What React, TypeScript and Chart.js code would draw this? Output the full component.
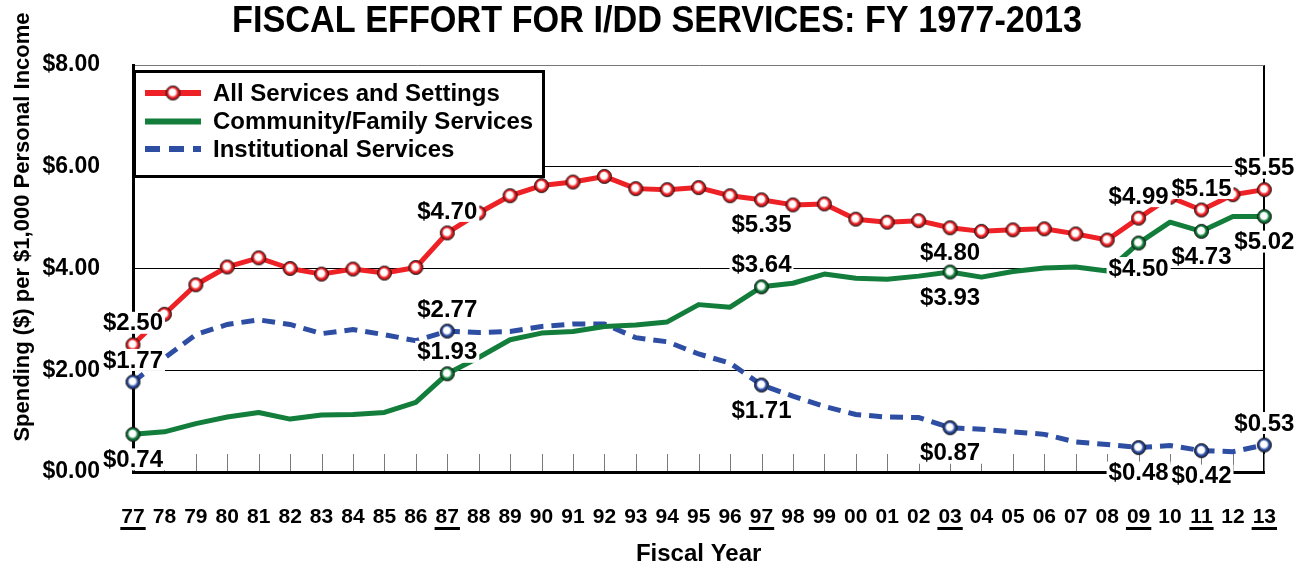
import React, { useEffect, useRef } from 'react';
import { Chart, registerables } from 'chart.js';

Chart.register(...registerables);

const FONT = '"Liberation Sans", Arial, Helvetica, sans-serif';

const TITLE = 'FISCAL EFFORT FOR I/DD SERVICES: FY 1977-2013';
const Y_TITLE = 'Spending ($) per $1,000 Personal Income';
const X_TITLE = 'Fiscal Year';

const YEARS = [
  '77', '78', '79', '80', '81', '82', '83', '84', '85', '86',
  '87', '88', '89', '90', '91', '92', '93', '94', '95', '96',
  '97', '98', '99', '00', '01', '02', '03', '04', '05', '06',
  '07', '08', '09', '10', '11', '12', '13',
];

const ALL_SERVICES = [
  2.50, 3.10, 3.68, 4.03, 4.21, 4.00, 3.89, 3.99, 3.91, 4.02,
  4.70, 5.09, 5.43, 5.63, 5.70, 5.81, 5.57, 5.55, 5.59, 5.43,
  5.35, 5.25, 5.27, 4.97, 4.91, 4.94, 4.80, 4.73, 4.76, 4.78,
  4.68, 4.56, 4.99, 5.40, 5.15, 5.45, 5.55,
];

const COMMUNITY = [
  0.74, 0.79, 0.95, 1.08, 1.17, 1.04, 1.12, 1.13, 1.17, 1.37,
  1.93, 2.25, 2.60, 2.73, 2.76, 2.86, 2.89, 2.95, 3.29, 3.24,
  3.64, 3.71, 3.89, 3.81, 3.79, 3.85, 3.93, 3.83, 3.94, 4.01,
  4.03, 3.95, 4.50, 4.91, 4.73, 5.02, 5.02,
];

const INSTITUTIONAL = [
  1.77, 2.24, 2.70, 2.90, 2.99, 2.90, 2.72, 2.80, 2.70, 2.58,
  2.77, 2.74, 2.76, 2.86, 2.91, 2.91, 2.64, 2.56, 2.32, 2.14,
  1.71, 1.49, 1.29, 1.13, 1.08, 1.07, 0.87, 0.84, 0.79, 0.74,
  0.59, 0.54, 0.48, 0.52, 0.42, 0.40, 0.53,
];

const Y_TICKS = [0, 2, 4, 6, 8];
const UNDERLINED_YEARS = ['77', '87', '97', '03', '09', '11', '13'];
const LABELED_YEARS = ['77', '87', '97', '03', '09', '11', '13'];
const ALL_LABELS_BELOW = ['97', '03'];
const COMMUNITY_LABELS_ABOVE = ['87', '97'];
const INSTITUTIONAL_LABELS_ABOVE = ['77', '87', '13'];

const RED = '#ee2226';
const GREEN = '#137d3b';
const BLUE = '#2d4ea3';

function makeMarker(color: string, dark: string): HTMLCanvasElement {
  const c = document.createElement('canvas');
  c.width = 17;
  c.height = 17;
  const g = c.getContext('2d')!;
  const grad = g.createRadialGradient(7.6, 7.2, 0.5, 8.5, 8.5, 7);
  grad.addColorStop(0, '#ffffff');
  grad.addColorStop(0.42, '#ffffff');
  grad.addColorStop(0.68, color);
  grad.addColorStop(1, dark);
  g.beginPath();
  g.arc(8.5, 8.5, 7, 0, Math.PI * 2);
  g.fillStyle = grad;
  g.fill();
  g.lineWidth = 1;
  g.strokeStyle = '#1a1a1a';
  g.stroke();
  return c;
}

export default function App() {
  const ref = useRef<HTMLCanvasElement | null>(null);

  useEffect(() => {
    const canvas = ref.current;
    if (!canvas) return;
    const redMarker = makeMarker(RED, '#a00d10');
    const greenMarker = makeMarker(GREEN, '#0a4a22');
    const blueMarker = makeMarker(BLUE, '#17295e');

    const labelCfg = [
      { above: (y: string) => !ALL_LABELS_BELOW.includes(y) },
      { above: (y: string) => COMMUNITY_LABELS_ABOVE.includes(y) },
      { above: (y: string) => INSTITUTIONAL_LABELS_ABOVE.includes(y) },
    ];

    const decor = {
      id: 'fiscalDecor',
      beforeDatasetsDraw(chart: any) {
        const { ctx, chartArea, scales } = chart;
        const x = scales.x;
        ctx.save();
        ctx.strokeStyle = '#7a7a7a';
        ctx.lineWidth = 1;
        YEARS.forEach((_, i) => {
          const px = Math.round(x.getPixelForValue(i)) + 0.5;
          ctx.beginPath();
          ctx.moveTo(px, chartArea.bottom - 1);
          ctx.lineTo(px, chartArea.bottom - 18);
          ctx.stroke();
        });
        ctx.restore();
      },
      afterDatasetsDraw(chart: any) {
        const { ctx } = chart;
        ctx.save();
        ctx.font = `bold 24px ${FONT}`;
        ctx.textAlign = 'center';
        ctx.textBaseline = 'middle';
        chart.data.datasets.forEach((ds: any, d: number) => {
          const meta = chart.getDatasetMeta(d);
          LABELED_YEARS.forEach((yr) => {
            const i = YEARS.indexOf(yr);
            const pt = meta.data[i];
            const text = '$' + (ds.data[i] as number).toFixed(2);
            const w = ctx.measureText(text).width;
            const cy = labelCfg[d].above(yr) ? pt.y - 22 : pt.y + 25;
            ctx.fillStyle = '#ffffff';
            ctx.fillRect(pt.x - w / 2 - 2, cy - 11, w + 4, 22);
            ctx.fillStyle = '#000000';
            ctx.fillText(text, pt.x, cy + 1);
          });
        });
        ctx.restore();
      },
      afterDraw(chart: any) {
        const { ctx, scales } = chart;
        const x = scales.x;
        ctx.save();
        // Title
        ctx.font = `bold 37px ${FONT}`;
        ctx.fillStyle = '#000';
        ctx.textAlign = 'center';
        ctx.textBaseline = 'alphabetic';
        const tw = ctx.measureText(TITLE).width;
        ctx.save();
        ctx.translate(657, 32);
        ctx.scale(850 / tw, 1);
        ctx.fillText(TITLE, 0, 0);
        ctx.restore();
        // Y title
        ctx.save();
        ctx.font = `bold 22px ${FONT}`;
        ctx.translate(23, 227);
        ctx.rotate(-Math.PI / 2);
        ctx.textBaseline = 'middle';
        ctx.fillText(Y_TITLE, 0, 0);
        ctx.restore();
        // Underlines
        ctx.font = `bold 21px ${FONT}`;
        UNDERLINED_YEARS.forEach((yr) => {
          const i = YEARS.indexOf(yr);
          const px = x.getPixelForValue(i);
          const w = ctx.measureText(yr).width + 2;
          ctx.fillRect(px - w / 2, 527, w, 3);
        });
        // Legend
        const bx = 134.5, by = 71.5, bw = 409, bh = 105;
        ctx.fillStyle = '#fff';
        ctx.fillRect(bx, by, bw, bh);
        ctx.lineWidth = 3;
        ctx.strokeStyle = '#000';
        ctx.strokeRect(bx, by, bw, bh);
        const rows = [93, 121.5, 149];
        const colors = [RED, GREEN, BLUE];
        chart.data.datasets.forEach((ds: any, d: number) => {
          const ry = rows[d];
          ctx.save();
          ctx.strokeStyle = colors[d];
          ctx.lineWidth = 6;
          if (d === 2) ctx.setLineDash([15, 9]);
          ctx.beginPath();
          ctx.moveTo(145, ry);
          ctx.lineTo(201, ry);
          ctx.stroke();
          ctx.restore();
          if (d === 0) ctx.drawImage(redMarker, 173 - 8.5, ry - 8.5);
          ctx.fillStyle = '#000';
          ctx.font = `bold 24px ${FONT}`;
          ctx.textAlign = 'left';
          ctx.textBaseline = 'middle';
          ctx.fillText(ds.label, 213, ry + 1);
        });
        ctx.restore();
      },
    };

    const isLabeled = (c: any) => LABELED_YEARS.includes(YEARS[c.dataIndex]);

    const chart = new Chart(canvas, {
      type: 'line',
      data: {
        labels: YEARS,
        datasets: [
          {
            label: 'All Services and Settings',
            data: ALL_SERVICES,
            borderColor: RED,
            borderWidth: 5,
            borderJoinStyle: 'round',
            pointStyle: redMarker as any,
            pointRadius: 7,
            pointHoverRadius: 7,
            tension: 0,
            clip: false as any,
          },
          {
            label: 'Community/Family Services',
            data: COMMUNITY,
            borderColor: GREEN,
            borderWidth: 5,
            borderJoinStyle: 'round',
            pointStyle: greenMarker as any,
            pointRadius: (c: any) => (isLabeled(c) ? 7 : 0),
            tension: 0,
            clip: false as any,
          },
          {
            label: 'Institutional Services',
            data: INSTITUTIONAL,
            borderColor: BLUE,
            borderWidth: 5,
            borderDash: [13, 8],
            pointStyle: blueMarker as any,
            pointRadius: (c: any) => (isLabeled(c) ? 7 : 0),
            tension: 0,
            clip: false as any,
          },
        ],
      },
      options: {
        responsive: false,
        animation: false,
        events: [],
        layout: { padding: { top: 65, right: 42, left: 0, bottom: 0 } },
        plugins: {
          legend: { display: false },
          title: { display: false },
          tooltip: { enabled: false },
        },
        scales: {
          x: {
            offset: false,
            grid: {
              drawTicks: false,
              color: (c: any) => (c.index === YEARS.length - 1 ? '#000' : 'rgba(0,0,0,0)'),
              lineWidth: (c: any) => (c.index === YEARS.length - 1 ? 2 : 1),
            },
            border: { display: true, color: '#000', width: 3 },
            ticks: {
              autoSkip: false,
              maxRotation: 0,
              minRotation: 0,
              padding: 33,
              color: '#000',
              font: { family: FONT, size: 21, weight: 'bold' },
            },
            title: {
              display: true,
              text: X_TITLE,
              color: '#000',
              padding: 0,
              font: { family: FONT, size: 24, weight: 'bold' },
            },
            afterFit: (s: any) => { s.height = 97; },
          },
          y: {
            min: 0,
            max: 8,
            afterBuildTicks: (s: any) => { s.ticks = Y_TICKS.map((v) => ({ value: v })); },
            grid: {
              drawTicks: false,
              color: (c: any) => (c.tick.value === 8 ? '#777' : c.tick.value === 0 ? 'rgba(0,0,0,0)' : '#000'),
              lineWidth: 1,
            },
            border: { display: true, color: '#000', width: 3 },
            ticks: {
              padding: 33,
              color: '#000',
              font: { family: FONT, size: 23, weight: 'bold' },
              callback: (v: any) => '$' + Number(v).toFixed(2),
            },
            afterFit: (s: any) => { s.width = 133; },
          },
        },
      },
      plugins: [decor],
    } as any);

    return () => chart.destroy();
  }, []);

  return (
    <div style={{ position: 'absolute', left: 0, top: 0, width: 1309, height: 569, background: '#fff' }}>
      <canvas ref={ref} width={1309} height={569} style={{ display: 'block', width: 1309, height: 569 }} />
    </div>
  );
}
